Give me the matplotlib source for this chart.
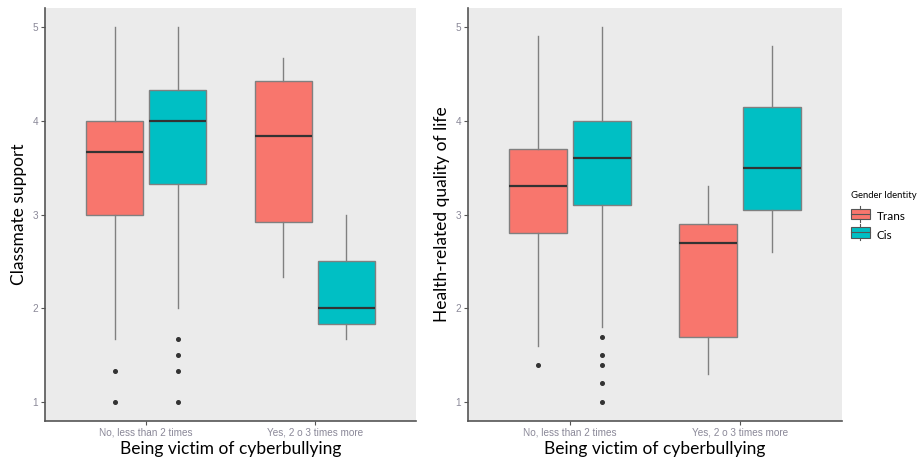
"""Cyberbullying vs classmate support / health-related QoL, split by gender identity."""
import matplotlib; matplotlib.use("Agg")
import matplotlib.pyplot as plt
from matplotlib.legend_handler import HandlerBase
from matplotlib.patches import Rectangle
from matplotlib.lines import Line2D

groups = ['No, less than 2 times', 'Yes, 2 o 3 times more']
genders = ['Trans', 'Cis']
COLS = {'Trans': '#F8766D', 'Cis': '#00BFC4'}

# summary stats per gender, one entry per group (No, Yes)
cs_q1 = {'Trans': [3.0, 2.92], 'Cis': [3.33, 1.83]}
cs_med = {'Trans': [3.67, 3.84], 'Cis': [4.0, 2.0]}
cs_q3 = {'Trans': [4.0, 4.42], 'Cis': [4.33, 2.5]}
cs_lo = {'Trans': [1.67, 2.33], 'Cis': [2.0, 1.67]}
cs_hi = {'Trans': [5.0, 4.67], 'Cis': [5.0, 3.0]}
cs_out = {'Trans': [[1.33, 1.0], []], 'Cis': [[1.67, 1.5, 1.33, 1.0], []]}

hq_q1 = {'Trans': [2.8, 1.7], 'Cis': [3.1, 3.05]}
hq_med = {'Trans': [3.3, 2.7], 'Cis': [3.6, 3.5]}
hq_q3 = {'Trans': [3.7, 2.9], 'Cis': [4.0, 4.15]}
hq_lo = {'Trans': [1.6, 1.3], 'Cis': [1.8, 2.6]}
hq_hi = {'Trans': [4.9, 3.3], 'Cis': [5.0, 4.8]}
hq_out = {'Trans': [[1.4], []], 'Cis': [[1.7, 1.5, 1.4, 1.2, 1.0], []]}

yticks = [1, 2, 3, 4, 5]

plt.rcParams.update({'font.family': ['Liberation Sans', 'DejaVu Sans']})
fig = plt.figure(figsize=(9.18, 4.63), dpi=100)
W, H = 918, 463
axL = fig.add_axes([45 / W, 42 / H, 371 / W, 413 / H])
axR = fig.add_axes([468 / W, 42 / H, 374 / W, 413 / H])

EDGE = '#808080'


def draw(ax, q1, med, q3, lo, hi, out, ylabel):
    ax.set_facecolor('#EBEBEB')
    for g in genders:
        off = -0.1875 if g == 'Trans' else 0.1875
        stats = []
        for i in range(len(groups)):
            stats.append(dict(q1=q1[g][i], med=med[g][i], q3=q3[g][i],
                              whislo=lo[g][i], whishi=hi[g][i], fliers=out[g][i]))
        ax.bxp(stats, positions=[i + 1 + off for i in range(len(groups))], widths=0.34,
               patch_artist=True, showcaps=False, manage_ticks=False,
               boxprops=dict(facecolor=COLS[g], edgecolor=EDGE, linewidth=1.0),
               medianprops=dict(color='#333333', linewidth=1.6),
               whiskerprops=dict(color=EDGE, linewidth=1.0),
               flierprops=dict(marker='o', markersize=2.6, markerfacecolor='#333333',
                               markeredgecolor='#333333'))
    ax.set_xlim(0.4, 2.6)
    ax.set_ylim(0.8, 5.2)
    ax.set_xticks([1, 2])
    ax.set_xticklabels(groups, fontsize=7.2, color='#8a8898')
    ax.set_yticks(yticks)
    ax.set_yticklabels([str(v) for v in yticks], fontsize=7.2, color='#8a8898')
    ax.tick_params(length=3, width=0.8, color='#555555', pad=2)
    for s in ('top', 'right'):
        ax.spines[s].set_visible(False)
    for s in ('left', 'bottom'):
        ax.spines[s].set_color('#555555')
        ax.spines[s].set_linewidth(1.2)
    ax.set_xlabel('Being victim of cyberbullying', fontsize=12.5, family='Lato', labelpad=2)
    ax.set_ylabel(ylabel, fontsize=12.5, family='Lato', labelpad=4)


draw(axL, cs_q1, cs_med, cs_q3, cs_lo, cs_hi, cs_out, 'Classmate support')
draw(axR, hq_q1, hq_med, hq_q3, hq_lo, hq_hi, hq_out, 'Health-related quality of life')


class BoxKey(HandlerBase):
    def create_artists(self, legend, orig, xd, yd, w, h, fontsize, trans):
        fc = orig.get_facecolor()
        r = Rectangle((xd, yd), w, h, facecolor=fc, edgecolor='#555555', lw=0.8, transform=trans)
        m = Line2D([xd, xd + w], [yd + h / 2] * 2, color='#555555', lw=0.8, transform=trans)
        t = Line2D([xd + w / 2] * 2, [yd + h, yd + h + 2], color='#555555', lw=0.8, transform=trans)
        b = Line2D([xd + w / 2] * 2, [yd - 2, yd], color='#555555', lw=0.8, transform=trans)
        return [r, m, t, b]


handles = [Rectangle((0, 0), 1, 1, facecolor=COLS[g]) for g in genders]
leg = fig.legend(handles, genders, loc='upper left', bbox_to_anchor=(851 / W, 1 - 191 / H),
                 frameon=False, title='Gender Identity', handler_map={Rectangle: BoxKey()},
                 borderpad=0, borderaxespad=0,
                 handlelength=1.6, handleheight=1.0, handletextpad=0.6, labelspacing=0.6,
                 prop={'family': 'Lato', 'size': 8.5},
                 title_fontproperties={'family': 'Lato', 'size': 6.8})
leg._legend_box.align = 'left'
leg._legend_box.sep = 8

fig.savefig('out.png', dpi=100)
